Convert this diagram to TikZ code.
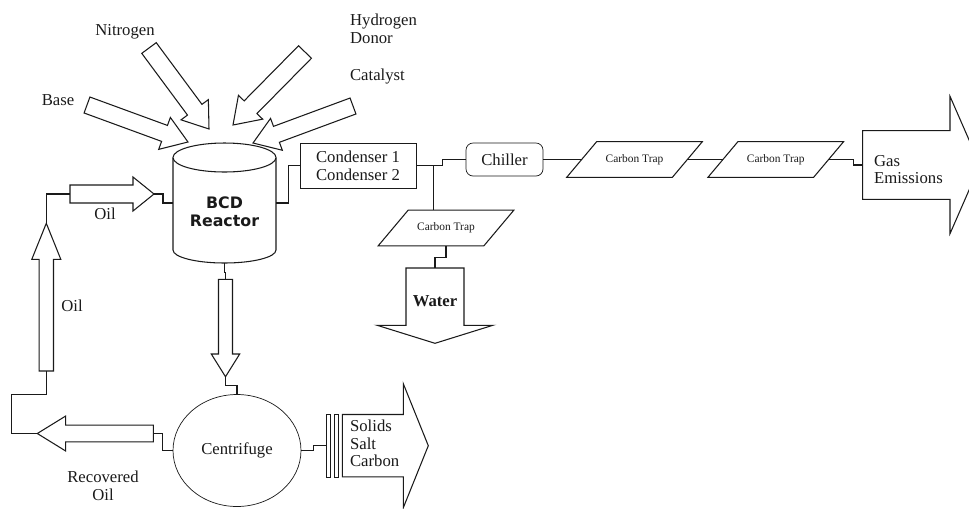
\documentclass[tikz,border=0pt]{standalone}
\usepackage{fontspec}
\setmainfont{Liberation Serif}
\newfontfamily\boldsans{DejaVu Sans}
\usetikzlibrary{calc,positioning,shapes.geometric}
\definecolor{ink}{HTML}{1A1A1A}
\tikzset{line width=.6pt,
  every node/.style={font=\fontsize{9.5}{10}\selectfont,text=ink},
  link/.style={draw=ink,line width=.6pt},
  flow/.style={draw=ink,fill=white,line width=.6pt,line join=miter},
  unit/.style={draw=ink,inner sep=0pt,align=center},
  bar/.style={draw=ink,inner sep=0pt,minimum width=.08cm,minimum height=1.26cm},
  trapbox/.style={inner sep=0pt,minimum width=2.1cm,minimum height=.7cm,
    font=\fontsize{6.5}{7}\selectfont},
  tag/.style={inner sep=1pt,align=left}}
% block arrow: tail, tip, half shaft, half head, head length (px)
\newcommand\blockarrow[5]{%
  \coordinate (hb) at ($(#2)!#5*0.02cm!(#1)$);
  \draw[flow] ($(#1)!#3*0.02cm!90:(#2)$) -- ($(hb)!#3*0.02cm!-90:(#1)$)
    -- ($(hb)!#4*0.02cm!-90:(#1)$) -- (#2) -- ($(hb)!#4*0.02cm!90:(#1)$)
    -- ($(hb)!#3*0.02cm!90:(#1)$) -- ($(#1)!#3*0.02cm!-90:(#2)$) -- cycle;}

\begin{document}
\begin{tikzpicture}[x=0.02cm,y=-0.02cm]
\useasboundingbox (0,0) rectangle (969,508);
\clip (0,0) rectangle (969,508);

% feeds into the reactor
\coordinate (baseT) at (87,105);  \coordinate (baseH) at (188,142);
\coordinate (nitT) at (149,48);   \coordinate (nitH) at (209,129);
\coordinate (hydT) at (305,52);   \coordinate (hydH) at (233,125);
\coordinate (catT) at (353,106);  \coordinate (catH) at (253,143);
\blockarrow{baseT}{baseH}{8.5}{17}{25}
\blockarrow{nitT}{nitH}{9}{17}{24}
\blockarrow{hydT}{hydH}{9}{17}{25}
\blockarrow{catT}{catH}{8.5}{17}{25}

% reactor
\node[inner sep=0pt,minimum width=2.06cm,minimum height=2.4cm] (reactor) at (224.5,203) {};
\draw[flow] (173,157.5) -- (173,250) arc[start angle=180,end angle=0,x radius=51.5,y radius=13]
  -- (276,157.5);
\draw[flow] (224.5,157.5) ellipse[x radius=51.5,y radius=14.5];
\node[align=center,font=\boldsans\bfseries\fontsize{9}{10}\selectfont] (bcd) at (224.5,211.5) {BCD\\Reactor};

\node[unit,minimum width=2.32cm,minimum height=.9cm] (cond) at (358,165.5) {Condenser 1\\Condenser 2};
\node[unit,rounded corners=4pt,minimum width=1.54cm,minimum height=.66cm] (chill) at (504.5,159.5) {Chiller};
\node[trapbox] (trapW) at (446,228) {Carbon Trap};
\node[trapbox] (trapA) at (634.5,159.5) {Carbon Trap};
\node[trapbox] (trapB) at (775.75,159.5) {Carbon Trap};
\foreach \t in {trapW,trapA,trapB}
  \draw[link] ($(\t.south west)+(-15,0)$) -- ($(\t.south east)+(-15,0)$)
    -- ($(\t.north east)+(15,0)$) -- ($(\t.north west)+(15,0)$) -- cycle;
\node[ellipse,draw=ink,inner sep=0pt,minimum width=2.56cm,minimum height=2.24cm] (cent) at (237,450.5) {Centrifuge};
\node[bar] (barA) at (328,445.7) {};
\node[bar] (barB) at (336,445.7) {};

% product streams
\coordinate (oilT) at (70,194);     \coordinate (oilH) at (154,194);
\coordinate (upT) at (46.3,371);    \coordinate (upH) at (46.3,223.3);
\coordinate (dnT) at (225.5,279.3); \coordinate (dnH) at (225.5,376.7);
\coordinate (recT) at (153.3,433.5);\coordinate (recH) at (37.3,433.5);
\coordinate (watT) at (435,268);    \coordinate (watH) at (435,343.3);
\coordinate (solT) at (342.3,445.7);\coordinate (solH) at (428.3,445.7);
\coordinate (gasT) at (862.7,165);  \coordinate (gasH) at (980,165);
\blockarrow{oilT}{oilH}{9}{17}{21}
\blockarrow{upT}{upH}{7.2}{14.5}{36}
\blockarrow{dnT}{dnH}{7}{14.2}{22.7}
\blockarrow{recT}{recH}{8.3}{17.5}{28.4}
\blockarrow{watT}{watH}{29}{57.8}{18}
\blockarrow{solT}{solH}{31.2}{62}{25}
\blockarrow{gasT}{gasH}{34.3}{68.7}{30}

% connectors
\draw[link] (oilH) -- ++(9,0) |- (reactor.west);
\draw[link] (reactor.east) -- ++(12,0) |- (cond.west);
\draw[link] (cond.east) -- ++(17,0) coordinate (tee) -- ++(9,0) |- (chill.west);
\draw[link] (tee) -- (tee |- trapW.north);
\draw[link] (trapW.south) -- ++(0,12) -| (watT);
\draw[link] (chill.east) -- (trapA.west);
\draw[link] (trapA.east) -- (trapB.west);
\draw[link] (trapB.east) -- ++(25,0) |- (gasT);
\draw[link] (reactor.south) -- ++(0,8.7) -| (dnT);
\draw[link] (dnH) -- ++(0,9) -| (cent.north);
\draw[link] (cent.west) -- ++(-9.7,0) |- (recT);
\draw[link] (recH) -| ++(-25.6,-39.2) -| (upT);
\draw[link] (upH) |- (oilT);
\draw[link] (cent.east) -- ++(12,0) |- (barA.west);

% labels
\node[tag] (nitro) at (125,32) {Nitrogen};
\node[tag] (base) at (58,100) {Base};
\node[tag,anchor=west] (hydro) at (348,28.5) {Hydrogen\\Donor};
\node[tag,anchor=west] (cata) at (348,77) {Catalyst};
\node[tag] (oilA) at (105,214) {Oil};
\node[tag] (oilB) at (72,306) {Oil};
\node[tag,align=center] (recov) at (103,486) {Recovered\\Oil};
\node[tag,font=\fontsize{9.5}{10}\selectfont\bfseries] (water) at (435,301) {Water};
\node[tag,anchor=west] (gas) at (872,169.5) {Gas\\Emissions};
\node[tag,anchor=west] (solid) at (348,443.7) {Solids\\Salt\\Carbon};
\end{tikzpicture}
\end{document}
